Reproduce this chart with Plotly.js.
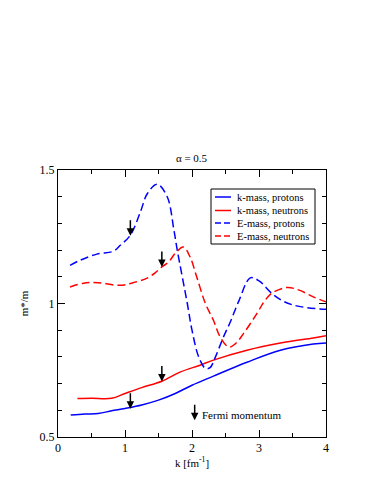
<!DOCTYPE html>
<html>
<head>
<meta charset="utf-8">
<script src="https://cdn.plot.ly/plotly-3.0.1.min.js"></script>
<style>
  html, body { margin: 0; padding: 0; background: #fff; }
  #plot { width: 383px; height: 495px; }
</style>
</head>
<body>
<div id="plot"></div>
<script>
// k-mass (solid) curves
const kProtK = [0.19, 0.4, 0.6, 0.8, 1.0, 1.25, 1.5, 1.75, 2.0, 2.32, 2.82, 3.32, 3.81, 4.0];
const kProtM = [0.582, 0.586, 0.588, 0.598, 0.607, 0.62, 0.638, 0.663, 0.694, 0.728, 0.78, 0.825, 0.848, 0.852];

const kNeutK = [0.29, 0.5, 0.8, 1.0, 1.25, 1.55, 1.83, 2.12, 2.32, 2.82, 3.32, 3.81, 4.0];
const kNeutM = [0.644, 0.645, 0.645, 0.663, 0.685, 0.709, 0.744, 0.769, 0.788, 0.825, 0.852, 0.871, 0.879];

// E-mass (dashed) curves
const eProtK = [0.18, 0.33, 0.58, 0.83, 0.93, 1.08, 1.23, 1.33, 1.48, 1.63, 1.73, 1.78, 1.93, 2.0, 2.1, 2.2, 2.27, 2.35, 2.47, 2.57, 2.7, 2.87, 3.0, 3.19, 3.35, 3.5, 3.7, 4.0];
const eProtM = [1.143, 1.162, 1.185, 1.196, 1.218, 1.256, 1.343, 1.41, 1.447, 1.40, 1.275, 1.2, 1.0, 0.9, 0.8, 0.757, 0.76, 0.8, 0.875, 0.93, 1.01, 1.096, 1.085, 1.038, 1.01, 0.995, 0.985, 0.978];

const eNeutK = [0.18, 0.38, 0.6, 0.93, 1.15, 1.33, 1.45, 1.55, 1.65, 1.75, 1.87, 1.97, 2.07, 2.2, 2.32, 2.42, 2.55, 2.65, 2.77, 2.97, 3.09, 3.2, 3.42, 3.6, 3.81, 4.0];
const eNeutM = [1.062, 1.076, 1.078, 1.068, 1.08, 1.095, 1.115, 1.137, 1.155, 1.188, 1.212, 1.175, 1.1, 1.0, 0.937, 0.875, 0.837, 0.85, 0.888, 0.963, 1.012, 1.04, 1.06, 1.05, 1.025, 1.006];

// Fermi momentum arrows (k position, curve value at tip)
const arrowK = [1.08, 1.55, 1.08, 1.55];
const arrowM = [1.254, 1.137, 0.606, 0.708];
const fermiLegK = 2.04, fermiLegM = 0.563;

const seriesNames = ['k-mass, protons', 'k-mass, neutrons', 'E-mass, protons', 'E-mass, neutrons'];
const seriesColors = ['#0000ff', '#ff0000', '#0000ff', '#ff0000'];
const seriesDash = ['solid', 'solid', '6px,3px', '6px,3px'];

const serif = 'Liberation Serif';

const xs = [kProtK, kNeutK, eProtK, eNeutK];
const ys = [kProtM, kNeutM, eProtM, eNeutM];
const traces = xs.map((x, i) => ({
  x: x, y: ys[i], name: seriesNames[i], mode: 'lines', showlegend: false,
  line: { color: seriesColors[i], width: 1.5, dash: i < 2 ? 'solid' : '8px,4px', shape: 'spline', smoothing: 1 }
}));

const annotations = arrowK.map((k, i) => ({
  x: k, y: arrowM[i], ax: 0, ay: -17, showarrow: true,
  arrowhead: 2, arrowsize: 1, arrowwidth: 1.5, arrowcolor: '#000', text: ''
}));
annotations.push({
  x: fermiLegK, y: fermiLegM, ax: 0, ay: -17, showarrow: true,
  arrowhead: 2, arrowsize: 1, arrowwidth: 1.5, arrowcolor: '#000', text: ''
});
annotations.push({
  x: 2.13, y: 0.582, xanchor: 'left', yanchor: 'middle', showarrow: false, borderpad: 0,
  text: 'Fermi momentum', font: { family: serif, size: 11, color: '#000' }
});

// hand-built legend box (plot-area fractions), rows like the original
const px = v => (v - 58) / 268;
const py = v => (437 - v) / 267;
const shapes = [{
  type: 'rect', xref: 'paper', yref: 'paper',
  x0: px(211), x1: px(315), y0: py(244), y1: py(189),
  line: { color: '#000', width: 1 }, fillcolor: '#fff', layer: 'above'
}];
const rowY = [197, 210.5, 223, 236];
seriesNames.forEach((name, i) => {
  shapes.push({
    type: 'line', xref: 'paper', yref: 'paper',
    x0: px(215), x1: px(231), y0: py(rowY[i]), y1: py(rowY[i]),
    line: { color: seriesColors[i], width: 1.5, dash: seriesDash[i] }, layer: 'above'
  });
  annotations.push({
    xref: 'paper', yref: 'paper', x: px(236), y: py(rowY[i]),
    xanchor: 'left', yanchor: 'middle', showarrow: false, borderpad: 0, text: name,
    font: { family: serif, size: 10.5, color: '#000' }
  });
});

const axisCommon = {
  showgrid: false, zeroline: false, showline: true, linecolor: '#000', linewidth: 1,
  mirror: 'allticks', ticks: 'inside', ticklen: 7, tickcolor: '#000', tickwidth: 1,
  tickfont: { family: serif, size: 12, color: '#000' }
};

const layout = {
  width: 383, height: 495,
  margin: { l: 58, r: 57, t: 170, b: 58 },
  paper_bgcolor: '#fff', plot_bgcolor: '#fff',
  font: { family: serif, color: '#000' },
  title: { text: 'α = 0.5', font: { family: serif, size: 11, color: '#000' },
           x: 0.5, xanchor: 'center', y: 1 - 158 / 495, yanchor: 'middle' },
  xaxis: Object.assign({}, axisCommon, {
    range: [0, 4], dtick: 1, tick0: 0,
    minor: { dtick: 0.5, ticks: 'inside', ticklen: 4, tickcolor: '#000' },
    title: { text: 'k [fm<sup>-1</sup>]', font: { family: serif, size: 11, color: '#000' }, standoff: 3 }
  }),
  yaxis: Object.assign({}, axisCommon, {
    range: [0.5, 1.5], dtick: 0.5, tick0: 0.5,
    minor: { dtick: 0.1, ticks: 'inside', ticklen: 4, tickcolor: '#000' },
    title: { text: 'm*/m', font: { family: serif, size: 11, color: '#000' }, standoff: 8 }
  }),
  showlegend: false,
  shapes: shapes,
  annotations: annotations
};

Plotly.newPlot('plot', traces, layout, { displayModeBar: false, staticPlot: true });
</script>
</body>
</html>
